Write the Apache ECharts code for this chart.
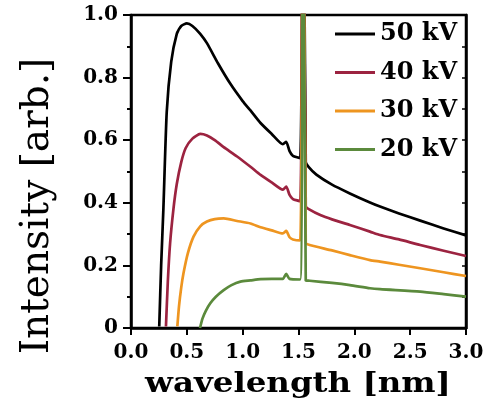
<!DOCTYPE html>
<html>
<head>
<meta charset="utf-8">
<script src="https://cdn.jsdelivr.net/npm/echarts@6/dist/echarts.min.js"></script>
<style>html,body{margin:0;padding:0;background:#fff}#c{width:489px;height:411px}</style>
</head>
<body>
<div id="c"></div>
<script>
var seriesNames = ['50 kV', '40 kV', '30 kV', '20 kV'];
var seriesColors = ['#000000', '#9c2340', '#ee9520', '#5b8a3c'];
var xTicks = [0, 0.5, 1.0, 1.5, 2.0, 2.5, 3.0];
var yTicks = [0, 0.2, 0.4, 0.6, 0.8, 1.0];

var wl50 = [0.253, 0.27, 0.29, 0.32, 0.36, 0.41, 0.45, 0.50, 0.55, 0.62, 0.68, 0.78, 0.89, 1.0, 1.07, 1.16, 1.26, 1.36, 1.39, 1.42, 1.45, 1.515, 1.54, 1.565, 1.59, 1.66, 1.80, 1.96, 2.14, 2.23, 2.40, 2.59, 2.80, 3.0];
var int50 = [0.005, 0.2, 0.38, 0.69, 0.85, 0.94, 0.965, 0.973, 0.965, 0.94, 0.91, 0.845, 0.78, 0.725, 0.695, 0.655, 0.62, 0.587, 0.595, 0.565, 0.55, 0.543, 1.7, 0.53, 0.515, 0.49, 0.458, 0.43, 0.401, 0.388, 0.366, 0.343, 0.318, 0.296];

var wl40 = [0.313, 0.33, 0.35, 0.38, 0.41, 0.45, 0.49, 0.55, 0.62, 0.68, 0.75, 0.83, 0.95, 1.07, 1.16, 1.26, 1.36, 1.39, 1.42, 1.45, 1.515, 1.54, 1.565, 1.60, 1.70, 1.80, 1.96, 2.14, 2.23, 2.40, 2.59, 2.80, 3.0];
var int40 = [0.005, 0.15, 0.27, 0.38, 0.46, 0.53, 0.575, 0.605, 0.62, 0.615, 0.6, 0.578, 0.548, 0.515, 0.489, 0.465, 0.442, 0.452, 0.425, 0.412, 0.405, 1.7, 0.39, 0.378, 0.36, 0.347, 0.329, 0.308, 0.297, 0.283, 0.265, 0.247, 0.23];

var wl30 = [0.415, 0.43, 0.45, 0.47, 0.51, 0.56, 0.62, 0.68, 0.75, 0.83, 0.95, 1.07, 1.16, 1.26, 1.36, 1.39, 1.42, 1.45, 1.515, 1.54, 1.565, 1.60, 1.80, 1.96, 2.14, 2.23, 2.40, 2.59, 2.80, 3.0];
var int30 = [0.005, 0.07, 0.13, 0.175, 0.24, 0.292, 0.325, 0.34, 0.348, 0.35, 0.342, 0.334, 0.322, 0.312, 0.302, 0.31, 0.29, 0.283, 0.28, 1.7, 0.272, 0.265, 0.248, 0.233, 0.217, 0.212, 0.202, 0.191, 0.178, 0.166];

var wl20 = [0.618, 0.64, 0.67, 0.71, 0.76, 0.83, 0.90, 0.98, 1.07, 1.16, 1.26, 1.36, 1.39, 1.42, 1.515, 1.54, 1.565, 1.60, 1.80, 1.96, 2.14, 2.23, 2.59, 2.80, 3.0];
var int20 = [0.0, 0.03, 0.055, 0.079, 0.1, 0.121, 0.137, 0.148, 0.152, 0.156, 0.157, 0.157, 0.173, 0.157, 0.155, 1.7, 0.152, 0.151, 0.144, 0.137, 0.127, 0.124, 0.116, 0.108, 0.10];

var wls = [wl50, wl40, wl30, wl20];
var ints = [int50, int40, int30, int20];

function pairs(xs, ys) { return xs.map(function (x, i) { return [x, ys[i]]; }); }

var font = 'DejaVu Serif';
var chart = echarts.init(document.getElementById('c'), null, { renderer: 'canvas' });

var series = seriesNames.map(function (n, i) {
  return {
    name: n, type: 'line', data: pairs(wls[i], ints[i]),
    showSymbol: false, symbol: 'none', clip: true,
    lineStyle: { color: seriesColors[i], width: 2.7, join: 'round' },
    itemStyle: { color: seriesColors[i] },
    smooth: 0.2, z: 2 + i
  };
});

chart.setOption({
  animation: false,
  backgroundColor: '#fff',
  grid: { left: 131, right: 23, top: 15, bottom: 83, show: true, borderColor: '#000', borderWidth: 2.5, backgroundColor: 'transparent' },
  legend: {
    orient: 'vertical', left: 330, top: 17, itemWidth: 40, itemHeight: 3, itemGap: 14.5,
    icon: 'rect', textStyle: { fontFamily: font, fontWeight: 'bold', fontSize: 24, color: '#000' },
    data: seriesNames
  },
  xAxis: {
    type: 'value', min: 0, max: 3, interval: 0.5,
    axisLine: { show: true, lineStyle: { color: '#000', width: 2.5 } },
    axisTick: { show: true, inside: false, length: 7, lineStyle: { color: '#000', width: 2 } },
    splitLine: { show: false },
    axisLabel: { margin: 15, fontFamily: font, fontWeight: 'bold', fontSize: 20, color: '#000',
      formatter: function (v) { return v.toFixed(1); } }
  },
  yAxis: [{
    type: 'value', min: 0, max: 1, interval: 0.2,
    axisLine: { show: true, lineStyle: { color: '#000', width: 2.5 } },
    axisTick: { show: true, inside: false, length: 8, lineStyle: { color: '#000', width: 2 } },
    minorTick: { show: true, splitNumber: 2, length: 4, lineStyle: { color: '#000', width: 2 } },
    splitLine: { show: false },
    axisLabel: { margin: 13, fontFamily: font, fontWeight: 'bold', fontSize: 20, color: '#000',
      formatter: function (v) { return v === 0 ? '0' : v.toFixed(1); } }
  }, {
    type: 'value', min: 0, max: 1, interval: 0.1, position: 'right',
    axisLine: { show: true, lineStyle: { color: '#000', width: 2.5 } },
    axisTick: { show: true, inside: true, length: 4, lineStyle: { color: '#000', width: 1.5 } },
    axisLabel: { show: false }, splitLine: { show: false }
  }],
  graphic: [{
    type: 'text', x: 38, y: 206, rotation: Math.PI / 2,
    style: { text: 'Intensity [arb.]', font: 'normal 39px "DejaVu Serif"', fill: '#000', textAlign: 'center', textVerticalAlign: 'middle' }
  }, {
    type: 'text', x: 298, y: 385, scaleX: 1.2,
    style: { text: 'wavelength [nm]', font: 'bold 27px "DejaVu Serif"', fill: '#000', textAlign: 'center', textVerticalAlign: 'middle' }
  }],
  series: series
});
</script>
</body>
</html>
